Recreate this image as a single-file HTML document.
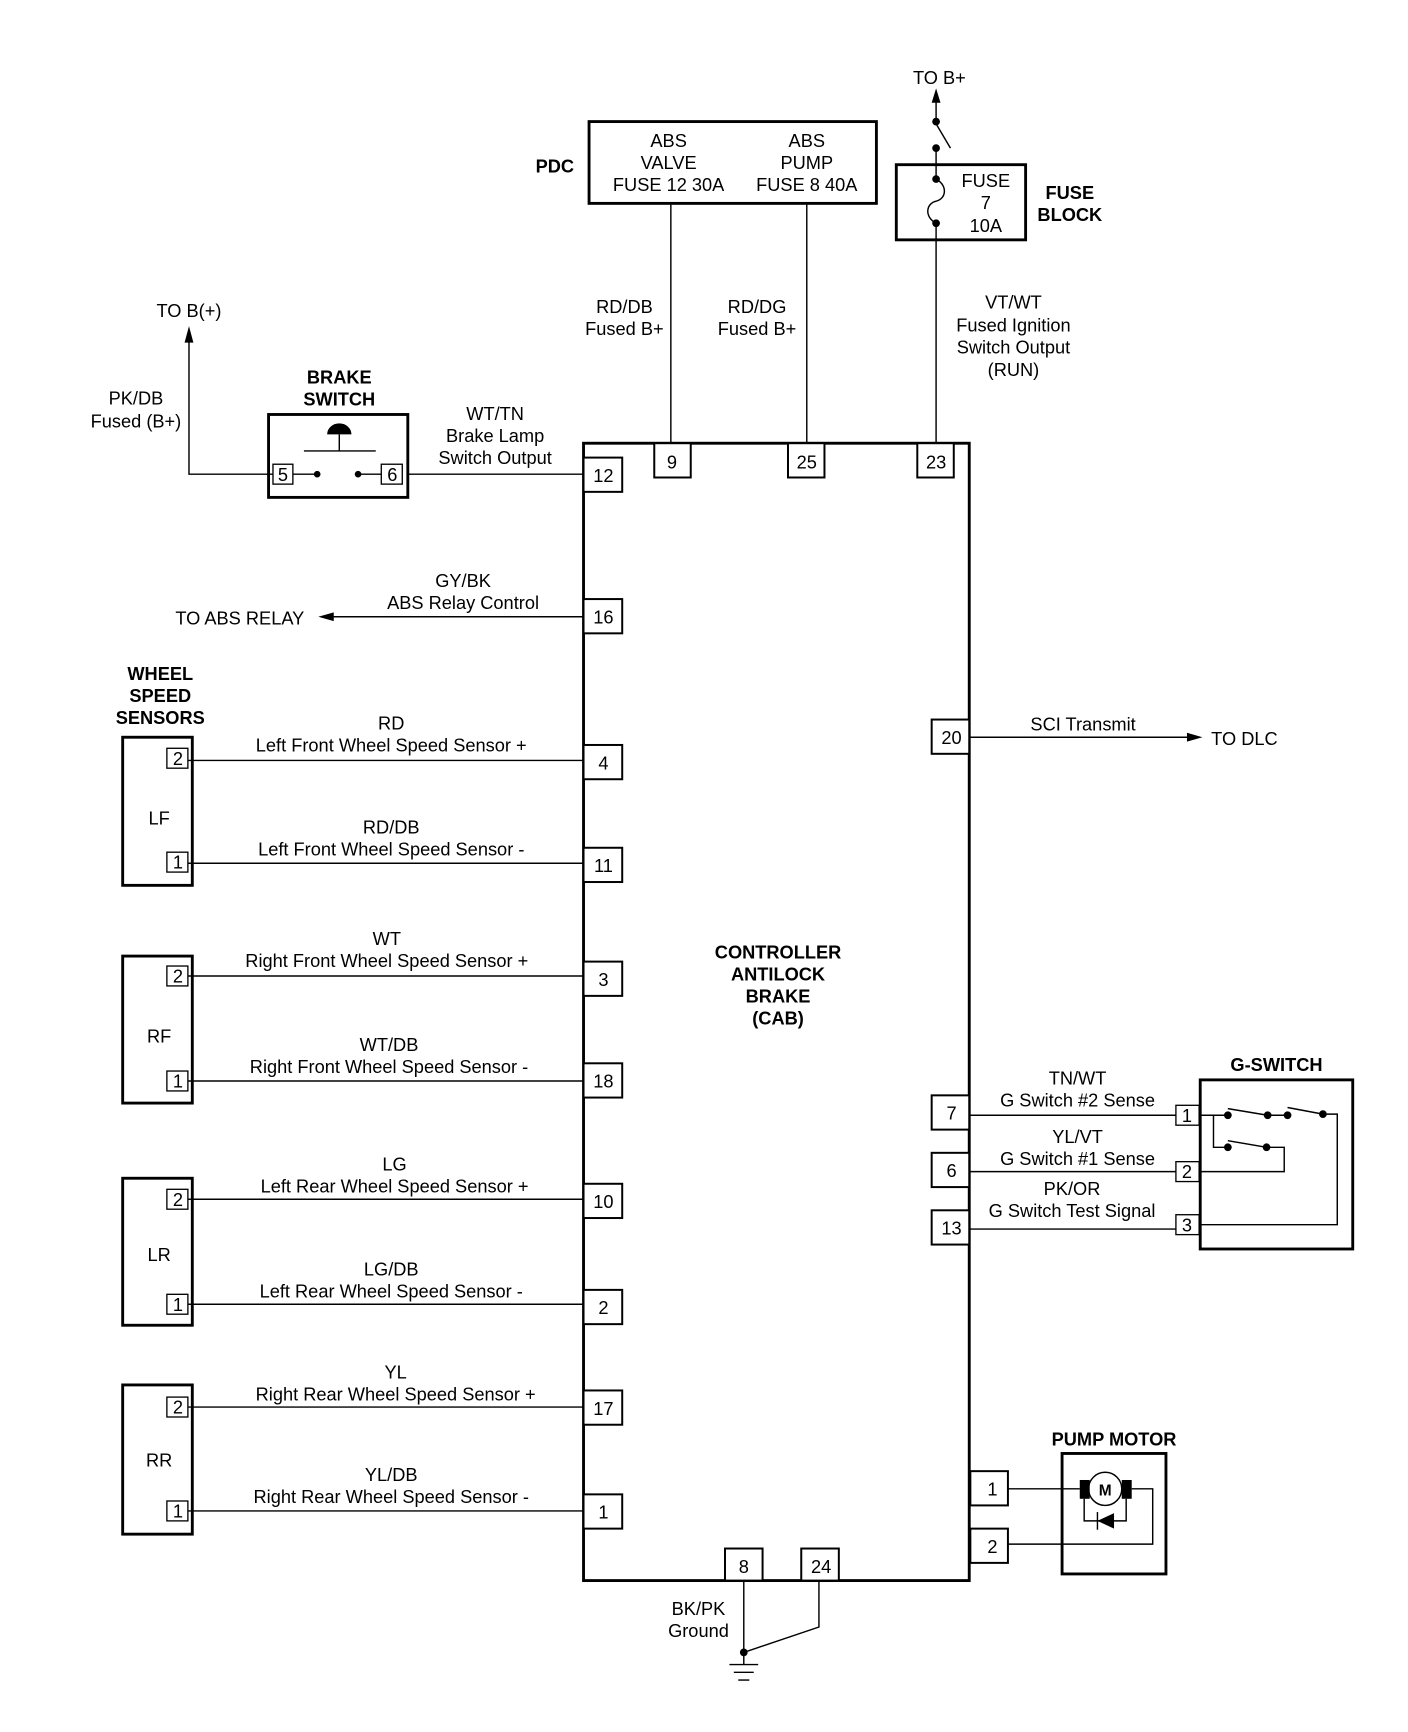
<!DOCTYPE html>
<html><head><meta charset="utf-8"><style>
html,body{margin:0;padding:0;background:#fff;}
svg{display:block;}
text{font-family:"Liberation Sans",Arial,sans-serif;font-size:16.5px;fill:#000;text-anchor:middle;}
.b{font-weight:bold;}
.l{fill:none;stroke:#000;stroke-width:1.3;}
.t{fill:none;stroke:#000;stroke-width:2.6;}
.p{fill:#fff;stroke:#000;stroke-width:1.8;}
.sp{fill:#fff;stroke:#000;stroke-width:1.2;}
</style></head><body>
<svg width="1408" height="1732" viewBox="0 0 1274 1567" preserveAspectRatio="none" xmlns="http://www.w3.org/2000/svg">
<!-- CAB -->
<rect x="528" y="401" width="349" height="1029" class="t"/>
<text class="b" x="704" y="867">CONTROLLER</text>
<text class="b" x="704" y="887">ANTILOCK</text>
<text class="b" x="704" y="907">BRAKE</text>
<text class="b" x="704" y="927">(CAB)</text>

<!-- PDC -->
<rect x="533" y="110" width="260" height="74" class="t"/>
<text class="b" x="502" y="156">PDC</text>
<text x="605" y="133">ABS</text><text x="605" y="153">VALVE</text><text x="605" y="173">FUSE 12 30A</text>
<text x="730" y="133">ABS</text><text x="730" y="153">PUMP</text><text x="730" y="173">FUSE 8 40A</text>
<line x1="607" y1="184" x2="607" y2="401" class="l" stroke-width="1.8"/>
<line x1="730" y1="184" x2="730" y2="401" class="l" stroke-width="1"/>
<text x="565" y="283">RD/DB</text><text x="565" y="303">Fused B+</text>
<text x="685" y="283">RD/DG</text><text x="685" y="303">Fused B+</text>
<rect x="592" y="401" width="33" height="31" class="p"/><text x="608" y="424">9</text>
<rect x="713" y="401" width="33" height="31" class="p"/><text x="730" y="424">25</text>
<rect x="830" y="401" width="33" height="31" class="p"/><text x="847" y="424">23</text>

<!-- Fuse block -->
<text x="850" y="76">TO B+</text>
<polygon points="847,80 843,93 851,93"/>
<line x1="847" y1="90" x2="847" y2="110" class="l" stroke-width="1.8"/>
<circle cx="847" cy="110" r="3.5"/>
<line x1="847" y1="112" x2="860" y2="134" class="l" stroke-width="1.5"/>
<circle cx="847" cy="134" r="3.5"/>
<line x1="847" y1="134" x2="847" y2="162" class="l" stroke-width="1.8"/>
<rect x="811" y="149" width="117" height="68" class="t"/>
<circle cx="847" cy="162" r="3.5"/><circle cx="847" cy="202" r="3.5"/>
<path d="M847,162 C858,168 856,180 847,182 C838,184 836,196 847,202" class="l"/>
<line x1="847" y1="202" x2="847" y2="401" class="l" stroke-width="1.8"/>
<text x="892" y="169">FUSE</text><text x="892" y="189">7</text><text x="892" y="210">10A</text>
<text class="b" x="968" y="180">FUSE</text><text class="b" x="968" y="200">BLOCK</text>
<text x="917" y="279">VT/WT</text><text x="917" y="300">Fused Ignition</text><text x="917" y="320">Switch Output</text><text x="917" y="340">(RUN)</text>

<!-- Brake switch -->
<text class="b" x="307" y="347">BRAKE</text><text class="b" x="307" y="367">SWITCH</text>
<rect x="243" y="375" width="126" height="75" class="t"/>
<path d="M296,393 A11,10 0 0 1 318,393 Z"/>
<line x1="307" y1="393" x2="307" y2="408" class="l"/>
<line x1="275" y1="408" x2="340" y2="408" class="l" stroke-width="1.6"/>
<rect x="247" y="420" width="18" height="18" class="sp"/><text x="256" y="435">5</text>
<rect x="345" y="420" width="19" height="18" class="sp"/><text x="355" y="435">6</text>
<line x1="265" y1="429" x2="287" y2="429" class="l"/><circle cx="287" cy="429" r="3"/>
<line x1="324" y1="429" x2="345" y2="429" class="l"/><circle cx="324" cy="429" r="3"/>
<polyline points="247,429 171,429 171,305" class="l" stroke-width="1.8"/>
<polygon points="171,295 167,310 175,310"/>
<text x="171" y="287">TO B(+)</text>
<text x="123" y="366">PK/DB</text><text x="123" y="387">Fused (B+)</text>
<line x1="369" y1="429" x2="528" y2="429" class="l" stroke-width="1"/>
<text x="448" y="380">WT/TN</text><text x="448" y="400">Brake Lamp</text><text x="448" y="420">Switch Output</text>
<rect x="528" y="414" width="35" height="31" class="p"/><text x="546" y="436">12</text>

<!-- ABS relay -->
<line x1="300" y1="558" x2="528" y2="558" class="l" stroke-width="1.5"/>
<polygon points="288,558 302,554 302,562"/>
<text x="217" y="565">TO ABS RELAY</text>
<text x="419" y="531">GY/BK</text><text x="419" y="551">ABS Relay Control</text>
<rect x="528" y="542" width="35" height="31" class="p"/><text x="546" y="564">16</text>

<!-- Wheel speed sensors -->
<text class="b" x="145" y="615">WHEEL</text><text class="b" x="145" y="635">SPEED</text><text class="b" x="145" y="655">SENSORS</text>

<g>
<rect x="111" y="667" width="63" height="134" class="t"/><text x="144" y="746">LF</text>
<rect x="151" y="677" width="19" height="18" class="sp"/><text x="161" y="692">2</text>
<rect x="151" y="771" width="19" height="18" class="sp"/><text x="161" y="786">1</text>
<line x1="170" y1="688" x2="528" y2="688" class="l"/><line x1="170" y1="781" x2="528" y2="781" class="l"/>
<text x="354" y="660">RD</text><text x="354" y="680">Left Front Wheel Speed Sensor +</text>
<text x="354" y="754">RD/DB</text><text x="354" y="774">Left Front Wheel Speed Sensor -</text>
<rect x="528" y="674" width="35" height="31" class="p"/><text x="546" y="696">4</text>
<rect x="528" y="767" width="35" height="31" class="p"/><text x="546" y="789">11</text>
</g>
<g>
<rect x="111" y="865" width="63" height="133" class="t"/><text x="144" y="943">RF</text>
<rect x="151" y="874" width="19" height="18" class="sp"/><text x="161" y="889">2</text>
<rect x="151" y="969" width="19" height="18" class="sp"/><text x="161" y="984">1</text>
<line x1="170" y1="883" x2="528" y2="883" class="l"/><line x1="170" y1="978" x2="528" y2="978" class="l"/>
<text x="350" y="855">WT</text><text x="350" y="875">Right Front Wheel Speed Sensor +</text>
<text x="352" y="951">WT/DB</text><text x="352" y="971">Right Front Wheel Speed Sensor -</text>
<rect x="528" y="870" width="35" height="31" class="p"/><text x="546" y="892">3</text>
<rect x="528" y="962" width="35" height="31" class="p"/><text x="546" y="984">18</text>
</g>
<g>
<rect x="111" y="1066" width="63" height="133" class="t"/><text x="144" y="1141">LR</text>
<rect x="151" y="1076" width="19" height="18" class="sp"/><text x="161" y="1091">2</text>
<rect x="151" y="1171" width="19" height="18" class="sp"/><text x="161" y="1186">1</text>
<line x1="170" y1="1085" x2="528" y2="1085" class="l"/><line x1="170" y1="1180" x2="528" y2="1180" class="l"/>
<text x="357" y="1059">LG</text><text x="357" y="1079">Left Rear Wheel Speed Sensor +</text>
<text x="354" y="1154">LG/DB</text><text x="354" y="1174">Left Rear Wheel Speed Sensor -</text>
<rect x="528" y="1071" width="35" height="31" class="p"/><text x="546" y="1093">10</text>
<rect x="528" y="1167" width="35" height="31" class="p"/><text x="546" y="1189">2</text>
</g>
<g>
<rect x="111" y="1253" width="63" height="135" class="t"/><text x="144" y="1327">RR</text>
<rect x="151" y="1264" width="19" height="18" class="sp"/><text x="161" y="1279">2</text>
<rect x="151" y="1358" width="19" height="18" class="sp"/><text x="161" y="1373">1</text>
<line x1="170" y1="1273" x2="528" y2="1273" class="l"/><line x1="170" y1="1367" x2="528" y2="1367" class="l"/>
<text x="358" y="1247">YL</text><text x="358" y="1267">Right Rear Wheel Speed Sensor +</text>
<text x="354" y="1340">YL/DB</text><text x="354" y="1360">Right Rear Wheel Speed Sensor -</text>
<rect x="528" y="1258" width="35" height="31" class="p"/><text x="546" y="1280">17</text>
<rect x="528" y="1352" width="35" height="31" class="p"/><text x="546" y="1374">1</text>
</g>

<!-- SCI -->
<rect x="843" y="651" width="34" height="31" class="p"/><text x="861" y="673">20</text>
<line x1="877" y1="667" x2="1076" y2="667" class="l"/>
<polygon points="1088,667 1074,663 1074,671"/>
<text x="980" y="661">SCI Transmit</text>
<text x="1126" y="674">TO DLC</text>

<!-- G-switch -->
<text class="b" x="1155" y="969">G-SWITCH</text>
<rect x="1086" y="977" width="138" height="153" class="t"/>
<rect x="843" y="991" width="34" height="31" class="p"/><text x="861" y="1013">7</text>
<rect x="843" y="1043" width="34" height="31" class="p"/><text x="861" y="1065">6</text>
<rect x="843" y="1095" width="34" height="31" class="p"/><text x="861" y="1117">13</text>
<line x1="877" y1="1009" x2="1064" y2="1009" class="l"/>
<line x1="877" y1="1060" x2="1064" y2="1060" class="l"/>
<line x1="877" y1="1112" x2="1064" y2="1112" class="l"/>
<rect x="1064" y="1000" width="21" height="18" class="sp"/><text x="1074" y="1015">1</text>
<rect x="1064" y="1051" width="21" height="18" class="sp"/><text x="1074" y="1066">2</text>
<rect x="1064" y="1099" width="21" height="18" class="sp"/><text x="1074" y="1114">3</text>
<text x="975" y="981">TN/WT</text><text x="975" y="1001">G Switch #2 Sense</text>
<text x="975" y="1034">YL/VT</text><text x="975" y="1054">G Switch #1 Sense</text>
<text x="970" y="1081">PK/OR</text><text x="970" y="1101">G Switch Test Signal</text>
<polyline points="1086,1009 1111,1009" class="l"/>
<polyline points="1198,1008 1210,1008 1210,1108 1086,1108" class="l"/>
<line x1="1111" y1="1003" x2="1147" y2="1009" class="l"/>
<line x1="1147" y1="1009" x2="1165" y2="1009" class="l"/>
<line x1="1165" y1="1002" x2="1197" y2="1008" class="l"/>
<circle cx="1111" cy="1009" r="3.5"/><circle cx="1147" cy="1009" r="3.5"/><circle cx="1165" cy="1009" r="3.5"/><circle cx="1197" cy="1008" r="3.5"/>
<polyline points="1098,1009 1098,1038 1111,1038" class="l"/>
<line x1="1111" y1="1032" x2="1146" y2="1038" class="l"/>
<polyline points="1146,1038 1162,1038 1162,1060 1086,1060" class="l"/>
<circle cx="1111" cy="1038" r="3.5"/><circle cx="1146" cy="1038" r="3.5"/>

<!-- Pump motor -->
<text class="b" x="1008" y="1308">PUMP MOTOR</text>
<rect x="961" y="1315" width="94" height="109" class="t"/>
<rect x="878" y="1331" width="34" height="31" class="p"/><text x="898" y="1353">1</text>
<rect x="878" y="1383" width="34" height="31" class="p"/><text x="898" y="1405">2</text>
<line x1="912" y1="1347" x2="977" y2="1347" class="l"/>
<circle cx="1000" cy="1347" r="15" fill="#fff" stroke="#000" stroke-width="1.3"/>
<text class="b" x="1000" y="1353" style="font-size:14px">M</text>
<rect x="977" y="1339" width="9" height="17"/><rect x="1015" y="1339" width="9" height="17"/>
<polyline points="1024,1347 1043,1347 1043,1397 912,1397" class="l"/>
<polyline points="981,1356 981,1376 1019,1376 1019,1356" class="l"/>
<polygon points="993,1376 1008,1369 1008,1383"/>
<line x1="993" y1="1368" x2="993" y2="1384" class="l"/>

<!-- Ground -->
<rect x="656" y="1401" width="34" height="29" class="p"/><text x="673" y="1423">8</text>
<rect x="725" y="1401" width="34" height="29" class="p"/><text x="743" y="1423">24</text>
<line x1="673" y1="1430" x2="673" y2="1495" class="l" stroke-width="1.6"/>
<polyline points="741,1430 741,1472 673,1495" class="l" stroke-width="1.6"/>
<circle cx="673" cy="1495" r="3.5"/>
<line x1="673" y1="1495" x2="673" y2="1506" class="l"/>
<line x1="660" y1="1506" x2="686" y2="1506" class="l" stroke-width="1.6"/>
<line x1="664" y1="1513" x2="682" y2="1513" class="l" stroke-width="1.6"/>
<line x1="668" y1="1520" x2="678" y2="1520" class="l" stroke-width="1.6"/>
<text x="632" y="1461">BK/PK</text><text x="632" y="1481">Ground</text>
</svg>
</body></html>
